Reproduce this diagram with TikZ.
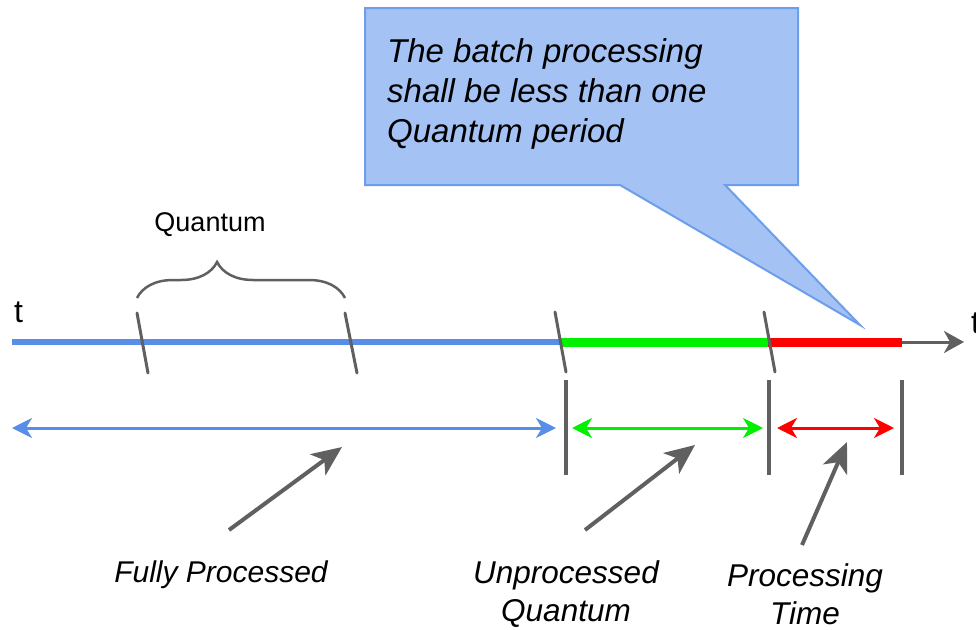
\documentclass[tikz,border=0pt]{standalone}
\usepackage{fontspec}
\setmainfont{Liberation Sans}
\usetikzlibrary{positioning, arrows.meta, decorations.pathreplacing}
\definecolor{lineblue}{RGB}{88,141,232}
\definecolor{notefill}{RGB}{164,194,244}
\definecolor{noteedge}{RGB}{109,158,235}
\definecolor{brightgreen}{RGB}{0,240,0}
\definecolor{brightred}{RGB}{255,0,0}
\definecolor{pengray}{RGB}{96,96,96}
\tikzset{
x=1pt, y=-1pt, % one unit is one pixel of the sketch
qmark/.style={pengray, line width=3pt, line cap=round}, % slanted quantum marks on the time line
endbar/.style={pengray, line width=4pt}, % vertical limits of the spans
spanarrow/.style={line width=3pt, arrows={Stealth[length=20pt,width=20pt,inset=6pt]-Stealth[length=20pt,width=20pt,inset=6pt]}},
pointarrow/.style={pengray, line width=4pt, -{Stealth[length=30pt,width=26pt,inset=8pt]}},
tagtext/.style={font=\fontsize{30}{37}\selectfont\itshape, align=center, inner sep=0pt},
notebox/.style={draw=noteedge, fill=notefill, line width=2pt, line join=miter},
}

\begin{document}
\begin{tikzpicture}
    \useasboundingbox (0,0) rectangle (976,629);

    % callout
    \coordinate (nw) at (365,8);
    \coordinate (se) at (798,185);
    \coordinate (tip) at (860,325);
    \draw[notebox] (nw) -- (nw -| se) -- (se) -- (725,185) -- (tip) -- (620,185) -- (nw |- se) -- cycle;
    \node[font=\fontsize{33}{40}\selectfont\itshape, align=left, inner sep=0pt, anchor=north west] (note) at (387,38)
        {The batch processing\\shall be less than one\\Quantum period};

    % time line
    \coordinate (t0) at (12,342);
    \coordinate (t1) at (560,342);
    \coordinate (t2) at (768,342);
    \coordinate (t3) at (902,342);
    \coordinate (t4) at (964,342);
    \draw[lineblue, line width=6pt] (t0) -- (t1);
    \draw[brightgreen, line width=9pt] (t1) -- (t2);
    \draw[brightred, line width=9pt] (t2) -- (t3);
    \draw[pengray, line width=3pt, -{Stealth[length=20pt,width=22pt,inset=6pt]}] (t3) -- (t4);
    \node[font=\fontsize{32}{36}\selectfont, inner sep=0pt, anchor=base west] (tleft) at (14,322) {t};
    \node[font=\fontsize{32}{36}\selectfont, inner sep=0pt, anchor=base west] (tright) at (971,333) {t};

    % quantum marks
    \draw[qmark] (137,313) -- (148,373);
    \draw[qmark] (345,313) -- (357,373);
    \draw[qmark] (555,312) -- (566,372);
    \draw[qmark] (764,312) -- (775,372);

    % one quantum
    \coordinate (qa) at (137,298);
    \coordinate (qb) at (345,298);
    \draw[pengray, line width=2.5pt, decorate, decoration={brace, amplitude=36pt, aspect=0.385}] (qa) -- (qb);
    \node[font=\fontsize{27}{30}\selectfont, inner sep=0pt, anchor=base] (quantum) at (210,231) {Quantum};

    % limits
    \draw[endbar] (566,380) -- (566,475);
    \draw[endbar] (769,380) -- (769,475);
    \draw[endbar] (902,380) -- (902,475);

    % spans
    \coordinate (b0) at (12,428);
    \coordinate (b1) at (556,428);
    \coordinate (g0) at (572,428);
    \coordinate (g1) at (763,428);
    \coordinate (r0) at (777,428);
    \coordinate (r1) at (894,428);
    \draw[spanarrow, lineblue] (b0) -- (b1);
    \draw[spanarrow, brightgreen] (g0) -- (g1);
    \draw[spanarrow, brightred] (r0) -- (r1);

    % labels
    \node[tagtext, anchor=base] (fully) at (221,582) {Fully Processed};
    \node[tagtext, font=\fontsize{31.5}{38}\selectfont\itshape] (unproc) at (566,594) {Unprocessed\\Quantum};
    \node[tagtext, font=\fontsize{31.5}{38}\selectfont\itshape] (proctime) at (805,594) {Processing\\Time};

    \coordinate (p1) at (342,447);
    \coordinate (p2) at (695,445);
    \coordinate (p3) at (847,442);
    \draw[pointarrow] (229,530) -- (p1);
    \draw[pointarrow] (585,530) -- (p2);
    \draw[pointarrow] (802,545) -- (p3);
\end{tikzpicture}
\end{document}
